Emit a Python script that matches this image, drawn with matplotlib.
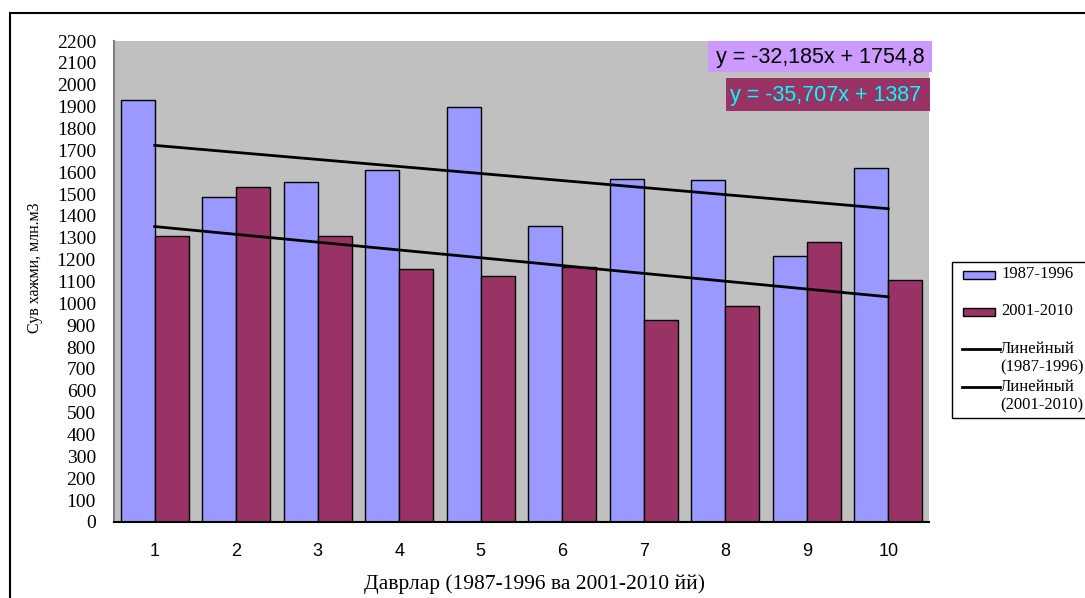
import matplotlib
matplotlib.use("Agg")
import matplotlib.pyplot as plt
from matplotlib.patches import Rectangle
from matplotlib.lines import Line2D
import numpy as np

# Periods (categories on the x axis)
periods = [1, 2, 3, 4, 5, 6, 7, 8, 9, 10]
y_ticks = list(range(0, 2201, 100))

# Water volume, mln m3
vol_1987_1996 = [1930, 1485, 1555, 1610, 1900, 1355, 1570, 1565, 1215, 1620]
vol_2001_2010 = [1310, 1530, 1310, 1155, 1125, 1165, 925, 990, 1280, 1105]

# Linear trend coefficients (slope, intercept)
trend_1987_1996 = (-32.185, 1754.8)
trend_2001_2010 = (-35.707, 1387.0)

eq_1987_1996 = "y = -32,185x + 1754,8"
eq_2001_2010 = "y = -35,707x + 1387"

series_labels = ["1987-1996", "2001-2010"]
trend_word = "Линейный"
trend_labels = ["(1987-1996)", "(2001-2010)"]

blue = "#9999FF"
plum = "#993366"
panel = "#C0C0C0"

W, H = 1085, 598
fig = plt.figure(figsize=(W / 100, H / 100), dpi=100)
fig.patch.set_facecolor("white")


def fx(px):
    return px / W


def fy(py):
    return 1 - py / H


# outer chart frame
fig.patches.append(Rectangle((fx(10), -0.1), 1.2, fy(13) + 0.1,
                             transform=fig.transFigure, fill=False,
                             edgecolor="black", linewidth=1.5, zorder=0))

ax = fig.add_axes([fx(114), fy(522), 815 / W, 481 / H])
ax.set_facecolor(panel)

x = np.array(periods, dtype=float)
bw = 0.417
ax.bar(x - bw / 2, vol_1987_1996, width=bw, color=blue, edgecolor="black",
       linewidth=1.0, zorder=2)
ax.bar(x + bw / 2, vol_2001_2010, width=bw, color=plum, edgecolor="black",
       linewidth=1.0, zorder=2)

xt = np.array([periods[0], periods[-1]], dtype=float)
for slope, icpt in (trend_1987_1996, trend_2001_2010):
    ax.plot(xt, slope * xt + icpt, color="black", linewidth=2.0, zorder=3)

ax.set_xlim(0.5, 10.5)
ax.set_ylim(0, 2200)
ax.set_xticks(periods)
ax.set_xticklabels([str(p) for p in periods], fontfamily="Liberation Sans",
                   fontsize=13)
ax.set_yticks(y_ticks)
ax.set_yticklabels([str(v) for v in y_ticks], fontfamily="Liberation Serif",
                   fontsize=14)
ax.tick_params(axis="x", length=0, pad=15)
ax.tick_params(axis="y", length=0, pad=13)

for side in ("top", "right"):
    ax.spines[side].set_visible(False)
ax.spines["left"].set_color("#808080")
ax.spines["left"].set_linewidth(1.5)
ax.spines["bottom"].set_color("black")
ax.spines["bottom"].set_linewidth(1.5)

fig.text(fx(35), fy(268), "Сув хажми, млн.м3", rotation=90,
         ha="center", va="center", fontfamily="Liberation Serif", fontsize=11.5)
fig.text(fx(534), fy(584), "Даврлар (1987-1996 ва 2001-2010 йй)",
         ha="center", va="center", fontfamily="Liberation Serif", fontsize=15.5)

# trend equation labels
fig.patches.append(Rectangle((fx(708), fy(72)), 224 / W, 31 / H,
                             transform=fig.transFigure, facecolor="#CC99FF",
                             edgecolor="none", zorder=5))
fig.text(fx(820), fy(57), eq_1987_1996, ha="center", va="center",
         fontfamily="Liberation Sans", fontsize=15.5, color="black", zorder=6)
fig.patches.append(Rectangle((fx(726), fy(111)), 204 / W, 33 / H,
                             transform=fig.transFigure, facecolor=plum,
                             edgecolor="none", zorder=5))
fig.text(fx(826), fy(95), eq_2001_2010, ha="center", va="center",
         fontfamily="Liberation Sans", fontsize=15.5, color="#00FFFF", zorder=6)

# legend, laid out in pixel positions
leg_font = {"family": "Liberation Serif", "size": 12}
fig.patches.append(Rectangle((fx(952), fy(418)), 1.0, (418 - 262) / H,
                             transform=fig.transFigure, facecolor="white",
                             edgecolor="black", linewidth=1.0, zorder=4))
for yc, color, label in zip((275, 312), (blue, plum), series_labels):
    fig.patches.append(Rectangle((fx(963), fy(yc + 4)), 32 / W, 8 / H,
                                 transform=fig.transFigure, facecolor=color,
                                 edgecolor="black", linewidth=1.0, zorder=5))
    fig.text(fx(1001), fy(yc - 1), label, ha="left", va="center",
             fontdict=leg_font, zorder=6)
for yc, label in zip((349, 387), trend_labels):
    fig.lines.append(Line2D([fx(962), fx(1000)], [fy(yc), fy(yc)],
                            transform=fig.transFigure, color="black",
                            linewidth=2.0, zorder=5))
    fig.text(fx(1000), fy(yc), trend_word, ha="left", va="center",
             fontdict=leg_font, zorder=6)
    fig.text(fx(1000), fy(yc + 18), label, ha="left", va="center",
             fontdict=leg_font, zorder=6)

fig.savefig("out.png", dpi=100)
